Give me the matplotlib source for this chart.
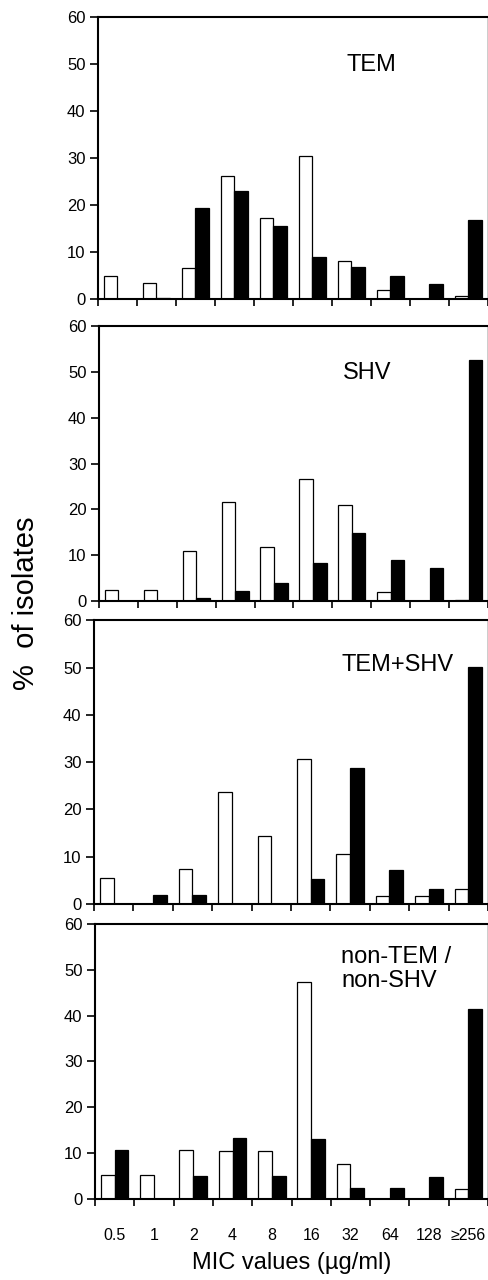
import matplotlib
matplotlib.use("Agg")
import matplotlib.pyplot as plt
import numpy as np

plt.rcParams['font.family'] = ['Liberation Sans', 'DejaVu Sans']

mic_labels = ["0.5", "1", "2", "4", "8", "16", "32", "64", "128", "\u2265256"]

panel_titles = ["TEM", "SHV", "TEM+SHV", "non-TEM /\nnon-SHV"]

tem_white = [4.9, 3.5, 6.7, 26.3, 17.2, 30.5, 8.0, 2.0, 0.0, 0.6]
tem_black = [0.0, 0.3, 19.3, 22.9, 15.6, 9.0, 6.8, 5.0, 3.1, 16.9]

shv_white = [2.3, 2.3, 10.9, 21.6, 11.8, 26.7, 20.9, 2.0, 0.0, 0.2]
shv_black = [0.0, 0.0, 0.6, 2.2, 3.9, 8.4, 14.8, 8.9, 7.1, 52.6]

temshv_white = [5.6, 0.0, 7.3, 23.6, 14.3, 30.7, 10.6, 1.6, 1.6, 3.2]
temshv_black = [0.0, 2.0, 1.9, 0.0, 0.0, 5.3, 28.7, 7.1, 3.2, 50.2]

non_white = [5.2, 5.2, 10.6, 10.4, 10.4, 47.3, 7.6, 0.0, 0.0, 2.1]
non_black = [10.6, 0.0, 5.0, 13.2, 5.0, 13.1, 2.3, 2.3, 4.8, 41.5]

whites = [tem_white, shv_white, temshv_white, non_white]
blacks = [tem_black, shv_black, temshv_black, non_black]

W, H = 489, 1280
fig = plt.figure(figsize=(W / 100, H / 100), dpi=100)

# (left px, top px, bottom px)
boxes = [(98, 17.3, 299.0), (99, 326.0, 601.0), (94, 620.4, 904.0), (95, 924.0, 1198.7)]
right_px = 488
# title positions (x frac, y frac, ha)
title_pos = [(0.70, 0.83, 'center'), (0.69, 0.829, 'center'),
             (0.77, 0.843, 'center'), (0.627, 0.836, 'left')]

x = np.arange(len(mic_labels))
bw = 0.35
for k in range(4):
    l, t, b = boxes[k]
    ax = fig.add_axes([l / W, 1 - b / H, (right_px - l) / W, (b - t) / H])
    ax.bar(x - bw / 2, whites[k], width=bw, color='white', edgecolor='black', linewidth=0.9)
    ax.bar(x + bw / 2, blacks[k], width=bw, color='black', edgecolor='black', linewidth=0.9)
    ax.set_xlim(-0.5, 9.5)
    ax.set_ylim(0, 60)
    ax.set_yticks(np.arange(0, 61, 10))
    ax.set_xticks(np.arange(-0.5, 10, 1.0))
    ax.set_xticklabels([])
    ax.tick_params(axis='y', direction='out', length=6, width=1.2, labelsize=12, pad=3)
    ax.tick_params(axis='x', which='major', direction='out', length=5, width=1.2)
    for s in ['left', 'bottom', 'top']:
        ax.spines[s].set_linewidth(1.5)
    ax.spines['right'].set_linewidth(1.0)
    tx, ty, ha = title_pos[k]
    ax.text(tx, ty, panel_titles[k], transform=ax.transAxes, ha=ha, va='center',
            fontsize=17, linespacing=1.15)
    if k == 3:
        ax.set_xticks(x, minor=True)
        ax.set_xticklabels(mic_labels, minor=True, fontsize=11.5)
        ax.tick_params(axis='x', which='minor', length=0, pad=21)

fig.text(292 / W, 1 - 1263 / H, "MIC values (\u00b5g/ml)", ha='center', va='center', fontsize=17)
fig.text(26 / W, 1 - 603 / H, "%  of isolates", ha='center', va='center', rotation=90, fontsize=21)

fig.savefig("out.png", dpi=100)
